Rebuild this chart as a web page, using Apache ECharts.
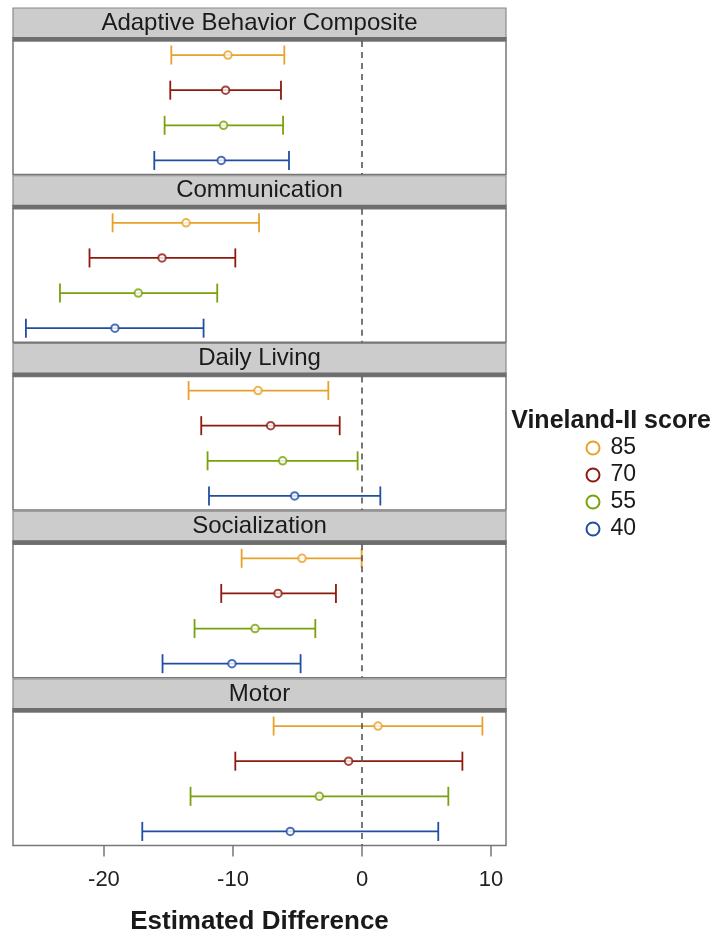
<!DOCTYPE html>
<html><head><meta charset="utf-8">
<script src="https://cdn.jsdelivr.net/npm/echarts@6/dist/echarts.min.js"></script>
<style>html,body{margin:0;padding:0;background:#fff}#c{width:718px;height:938px}</style>
</head><body><div id="c"></div><script>
// Facets (top to bottom)
const facets = ['Adaptive Behavior Composite','Communication','Daily Living','Socialization','Motor'];
// Groups (legend order, top row first)
const groups = ['85','70','55','40'];
const groupRows = [1,2,3,4];
// Estimates and 95% intervals per group, one value per facet
const est85 = [-10.39, -13.64, -8.06, -4.65,  1.24];
const lo85  = [-14.78, -19.33, -13.44, -9.33, -6.85];
const hi85  = [ -6.02,  -7.98,  -2.61, -0.03,  9.33];
const est70 = [-10.57, -15.50, -7.08, -6.51, -1.04];
const lo70  = [-14.86, -21.12, -12.46, -10.91, -9.82];
const hi70  = [ -6.28,  -9.82,  -1.73, -2.02,  7.78];
const est55 = [-10.73, -17.34, -6.15, -8.29, -3.31];
const lo55  = [-15.30, -23.41, -11.97, -12.98, -13.29];
const hi55  = [ -6.12, -11.22,  -0.34, -3.62,  6.69];
const est40 = [-10.91, -19.15, -5.22, -10.08, -5.56];
const lo40  = [-16.10, -26.05, -11.86, -15.46, -17.03];
const hi40  = [ -5.66, -12.28,   1.42, -4.76,  5.91];
const xTicks = [-20, -10, 0, 10];
const xMin = -27.05, xMax = 11.16;

const estByGroup = [est85, est70, est55, est40];
const loByGroup = [lo85, lo70, lo55, lo40];
const hiByGroup = [hi85, hi70, hi55, hi40];
const colors = ['#E6A22B', '#8C1A0E', '#78A20C', '#214FA0'];

const bodyTops = [41, 208.75, 376.5, 544.25, 712];
const bodyH = 133.5;
const gLeft = 13, gWidth = 493;
const FONT = '"Liberation Sans", Arial, sans-serif';

const grids = [], xAxes = [], yAxes = [], series = [], graphics = [];
facets.forEach((f, fi) => {
  const last = fi === facets.length - 1;
  grids.push({left: gLeft, width: gWidth, top: bodyTops[fi], height: bodyH, show: true,
    borderColor: '#777', borderWidth: 1.5, backgroundColor: '#fff'});
  xAxes.push({type: 'value', gridIndex: fi, min: xMin, max: xMax,
    axisLine: {show: false}, splitLine: {show: false},
    axisTick: {show: last, length: 11, inside: false, customValues: xTicks, lineStyle: {color: '#777', width: 1.5}},
    axisLabel: {show: last, customValues: xTicks, margin: 23, fontSize: 22, color: '#222', fontFamily: 'Liberation Sans, Arial, sans-serif'},
    name: last ? 'Estimated Difference' : '', nameLocation: 'middle', nameGap: 63,
    nameTextStyle: {fontSize: 26, fontWeight: 'bold', color: '#1a1a1a', fontFamily: 'Liberation Sans, Arial, sans-serif'}
  });
  yAxes.push({type: 'value', gridIndex: fi, min: 0.6, max: 4.4, inverse: true, show: false, splitLine: {show: false}});
  groups.forEach((g, gi) => {
    const col = colors[gi];
    series.push({
      type: 'custom', name: g, xAxisIndex: fi, yAxisIndex: fi,
      itemStyle: {color: col},
      data: [[loByGroup[gi][fi], hiByGroup[gi][fi], groupRows[gi]]],
      renderItem: (params, api) => {
        const a = api.coord([api.value(0), api.value(2)]);
        const b = api.coord([api.value(1), api.value(2)]);
        const h = 9.5;
        const st = {stroke: col, lineWidth: 1.8};
        return {type: 'group', children: [
          {type: 'line', shape: {x1: a[0], y1: a[1], x2: b[0], y2: b[1]}, style: st},
          {type: 'line', shape: {x1: a[0], y1: a[1] - h, x2: a[0], y2: a[1] + h}, style: st},
          {type: 'line', shape: {x1: b[0], y1: b[1] - h, x2: b[0], y2: b[1] + h}, style: st}
        ]};
      },
      markLine: gi === 0 ? {silent: true, symbol: 'none', label: {show: false},
        lineStyle: {color: '#555', type: [6, 5], width: 1.6}, data: [{xAxis: 0}]} : undefined,
      z: 2
    });
    series.push({
      type: 'scatter', name: g, xAxisIndex: fi, yAxisIndex: fi,
      symbol: 'circle', symbolSize: 7.5,
      itemStyle: {color: '#fff', borderColor: col, borderWidth: 2},
      data: [[estByGroup[gi][fi], groupRows[gi]]],
      z: 3
    });
  });
  const t = bodyTops[fi];
  graphics.push({type: 'rect', shape: {x: gLeft, y: t - 33, width: gWidth, height: 30},
    style: {fill: '#cccccc', stroke: '#8a8a8a', lineWidth: 1.2}, z: 10});
  graphics.push({type: 'rect', shape: {x: gLeft - 0.75, y: t - 4, width: gWidth + 1.5, height: 4},
    style: {fill: '#6e6e6e'}, z: 11});
  graphics.push({type: 'text', x: gLeft + gWidth / 2, y: t - 18,
    style: {text: f, fill: '#1a1a1a', font: '24px ' + FONT, align: 'center', verticalAlign: 'middle'}, z: 12});
});

graphics.push({type: 'text', x: 611, y: 421,
  style: {text: 'Vineland-II score', fill: '#1a1a1a', font: 'bold 25px ' + FONT, align: 'center', verticalAlign: 'middle'}, z: 12});

const chart = echarts.init(document.getElementById('c'), null, {renderer: 'canvas'});
chart.setOption({
  animation: false,
  backgroundColor: '#fff',
  grid: grids, xAxis: xAxes, yAxis: yAxes, series: series,
  legend: {
    orient: 'vertical', left: 580.5, top: 431.5, itemWidth: 25, itemHeight: 13, itemGap: 4,
    selectedMode: false,
    data: groups.map((g, i) => ({name: g, icon: 'circle', itemStyle: {color: '#fff', borderColor: colors[i], borderWidth: 2}})),
    textStyle: {fontSize: 23, lineHeight: 20, color: '#1a1a1a', fontFamily: 'Liberation Sans, Arial, sans-serif'}
  },
  graphic: graphics
});
</script></body></html>
